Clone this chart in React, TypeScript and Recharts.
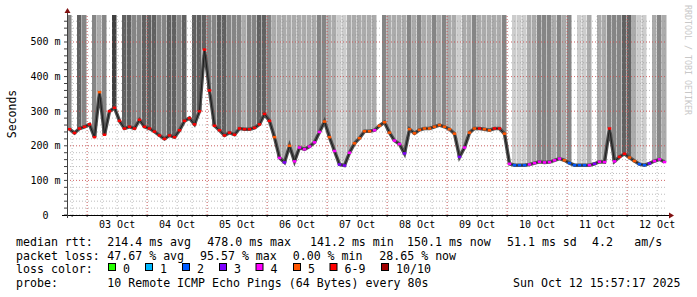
import { ComposedChart, Bar, Line, XAxis, YAxis, ReferenceLine, Cell } from "recharts";

// time axis in hours since 02 Oct 00:00, one bin = 2 h
const START_H = 15.95; // 02 Oct 15:57
const END_H = 255.95; // 12 Oct 15:57
const STEP_H = 2;
const Y_MAX = 578;

// median rtt (ms) per bin
const median = [
  248, 237, 250, 255, 262, 225, 355, 232, 300, 310, 272, 250, 255, 250, 275, 255, 250, 241, 230, 220, 230, 225, 245, 272, 280, 262, 300, 478, 360, 258,
  245, 230, 238, 232, 250, 248, 248, 252, 262, 292, 272, 225, 165, 152, 200, 155, 195, 190, 198, 210, 240, 270, 225, 185, 146, 143, 180, 207, 222, 242,
  242, 245, 258, 268, 238, 215, 205, 178, 248, 236, 246, 250, 250, 255, 260, 255, 248, 235, 168, 195, 238, 250, 250, 248, 245, 250, 250, 235, 148, 144,
  144, 144, 146, 150, 154, 152, 153, 158, 163, 158, 150, 144, 144, 144, 144, 148, 154, 153, 250, 155, 168, 177, 166, 156, 147, 144, 149, 156, 161, 153,
];

// lost pings out of 10 per bin (drives the median colour)
const lostPings = [
  6, 6, 6, 6, 6, 6, 5, 6, 6, 6, 6, 6, 6, 6, 6, 6, 6, 6, 6, 6, 6, 6, 6, 6, 6, 6, 6, 6, 6, 6,
  6, 6, 6, 6, 6, 6, 6, 6, 6, 6, 6, 5, 4, 3, 5, 4, 4, 4, 4, 4, 4, 5, 5, 4, 3, 3, 4, 5, 5, 5,
  5, 4, 5, 5, 5, 4, 4, 3, 5, 5, 5, 5, 5, 5, 5, 5, 5, 5, 3, 4, 5, 5, 6, 5, 5, 6, 6, 5, 4, 2,
  2, 2, 4, 4, 4, 4, 4, 4, 4, 5, 2, 2, 2, 2, 4, 3, 4, 4, 6, 4, 6, 6, 5, 5, 2, 2, 3, 4, 4, 4,
];

// smoke shade above the median per bin (0 = none, 5 = darkest)
const smokeShade = [
  3, 0, 4, 3, 0, 3, 2, 3, 0, 5, 0, 4, 4, 3, 3, 4, 4, 4, 3, 3, 4, 4, 3, 4, 0, 4, 4, 4, 3, 3,
  4, 4, 3, 3, 3, 2, 3, 3, 4, 4, 3, 2, 2, 2, 2, 2, 2, 2, 2, 2, 3, 3, 2, 2, 1, 1, 2, 2, 2, 2,
  2, 2, 0, 3, 2, 2, 2, 2, 3, 2, 3, 2, 2, 3, 2, 3, 2, 2, 1, 2, 2, 3, 2, 2, 2, 2, 2, 3, 0, 1,
  1, 1, 2, 2, 3, 3, 3, 2, 3, 2, 3, 0, 1, 1, 2, 0, 2, 2, 3, 3, 3, 4, 4, 2, 1, 1, 0, 2, 3, 2,
];

const DAY_LABELS = ["03 Oct", "04 Oct", "05 Oct", "06 Oct", "07 Oct", "08 Oct", "09 Oct", "10 Oct", "11 Oct", "12 Oct"];
const Y_LABELS = ["0", "100 m", "200 m", "300 m", "400 m", "500 m"];

const LOSS_COLORS = ["#26ff00", "#00b8ff", "#0059ff", "#7e00ff", "#ff00ff", "#ff5500", "#ff0000", "#ff0000", "#ff0000", "#ff0000", "#a10000"];
const LEGEND_ITEMS = [
  { label: "0", color: "#26ff00" },
  { label: "1", color: "#00b8ff" },
  { label: "2", color: "#0059ff" },
  { label: "3", color: "#7e00ff" },
  { label: "4", color: "#ff00ff" },
  { label: "5", color: "#ff5500" },
  { label: "6-9", color: "#ff0000" },
  { label: "10/10", color: "#a10000" },
];
const SHADES = ["none", "#cdcdcd", "#ababab", "#858585", "#616161", "#404040"];

const MONO = "'DejaVu Sans Mono', monospace";

const data = median.map((m, i) => ({
  h: START_H + STEP_H * (i + 0.5),
  median: m,
  loss: lostPings[i],
  shade: smokeShade[i],
  smoke: smokeShade[i] > 0 ? [m, Y_MAX] : null,
}));

const xMinor: number[] = [];
for (let h = 18; h <= 252; h += 6) xMinor.push(h);
const xMajor = xMinor.filter((h) => h % 24 === 0);
const yMinor: number[] = [];
for (let v = 0; v <= 560; v += 20) yMinor.push(v);
const yMajor = yMinor.filter((v) => v > 0 && v % 100 === 0);

function XTick({ x, y, payload }: any) {
  const h = payload.value;
  const label = h % 24 === 12 ? DAY_LABELS[(h - 36) / 24] : null;
  return (
    <g>
      <line x1={x} x2={x} y1={y} y2={y + 2} stroke="#404040" />
      {label && (
        <text x={x} y={y + 13} textAnchor="middle" fontFamily={MONO} fontSize={10} fill="#000">
          {label}
        </text>
      )}
    </g>
  );
}

function YTick({ x, y, payload }: any) {
  const v = payload.value;
  const label = v % 100 === 0 ? Y_LABELS[v / 100] : null;
  return (
    <g>
      <line x1={x - 3} x2={x} y1={y} y2={y} stroke="#404040" />
      {label && (
        <text x={v === 0 ? x - 18.5 : x - 6.5} y={y + 3.5} textAnchor="end" fontFamily={MONO} fontSize={10} fill="#000">
          {label}
        </text>
      )}
    </g>
  );
}

function LossDot({ cx, cy, payload }: any) {
  if (cx == null || cy == null) return null;
  return <rect x={cx - 1.75} y={cy - 1.25} width={3.5} height={2.5} fill={LOSS_COLORS[payload.loss]} />;
}

export default function App() {
  const rowText = { fontFamily: MONO, fontSize: 11.6, fill: "#000", whiteSpace: "pre" } as const;
  return (
    <div style={{ position: "absolute", left: 0, top: 0, width: 697, height: 297, background: "#fff" }}>
      <ComposedChart
        width={697}
        height={297}
        data={data}
        margin={{ top: 15, right: 30, bottom: 62, left: 0 }}
        barCategoryGap={0}
        barGap={0}
      >
        <XAxis
          type="number"
          dataKey="h"
          domain={[START_H, END_H]}
          ticks={xMinor}
          interval={0}
          tick={<XTick />}
          tickSize={0}
          tickMargin={0}
          axisLine={false}
          height={20}
          allowDataOverflow
        />
        <YAxis
          type="number"
          domain={[0, Y_MAX]}
          ticks={yMinor}
          interval={0}
          tick={<YTick />}
          tickSize={0}
          tickMargin={0}
          axisLine={false}
          width={67}
          allowDataOverflow
        />
        <Bar dataKey="smoke" barSize={5} isAnimationActive={false}>
          {data.map((d, i) => (
            <Cell key={i} fill={SHADES[d.shade]} />
          ))}
        </Bar>
        {xMinor.map((h) => (
          <ReferenceLine key={"xm" + h} x={h} stroke="rgba(143,143,143,0.6)" strokeDasharray="1 2" />
        ))}
        {yMinor.map((v) => (
          <ReferenceLine key={"ym" + v} y={v} stroke="rgba(143,143,143,0.6)" strokeDasharray="1 2" />
        ))}
        {xMajor.map((h) => (
          <ReferenceLine key={"xM" + h} x={h} stroke="rgba(232,56,56,0.6)" strokeDasharray="1 2" />
        ))}
        {yMajor.map((v) => (
          <ReferenceLine key={"yM" + v} y={v} stroke="rgba(232,56,56,0.6)" strokeDasharray="1 2" />
        ))}
        <Line dataKey="median" type="linear" stroke="#505050" strokeWidth={3.5} dot={false} activeDot={false} isAnimationActive={false} />
        <Line dataKey="median" type="linear" stroke="#1c1c1c" strokeWidth={1} dot={<LossDot />} activeDot={false} isAnimationActive={false} />
      </ComposedChart>

      <svg width={697} height={297} style={{ position: "absolute", left: 0, top: 0, pointerEvents: "none" }}>
        {/* axes and arrows */}
        <line x1={62} x2={670} y1={215.5} y2={215.5} stroke="#000" />
        <line x1={67.5} x2={67.5} y1={218} y2={12} stroke="#404040" />
        <polygon points="67.5,8 64.5,13 70.5,13" fill="#801010" />
        <polygon points="674,215.5 669,212.5 669,218.5" fill="#801010" />

        <text transform="translate(15.5,114) rotate(-90)" textAnchor="middle" fontFamily={MONO} fontSize={11.5} fill="#000">
          Seconds
        </text>
        <text transform="translate(684.5,5) rotate(90)" fontFamily={MONO} fontSize={8.3} fill="#c8c8c8">
          RRDTOOL / TOBI OETIKER
        </text>

        <text x={16} y={246} style={rowText}>median rtt:</text>
        <text x={107.3} y={246} style={rowText}>214.4 ms avg</text>
        <text x={207.3} y={246} style={rowText}>478.0 ms max</text>
        <text x={310} y={246} style={rowText}>141.2 ms min</text>
        <text x={407} y={246} style={rowText}>150.1 ms now</text>
        <text x={507} y={246} style={rowText}>51.1 ms sd</text>
        <text x={592} y={246} style={rowText}>4.2</text>
        <text x={634.3} y={246} style={rowText}>am/s</text>

        <text x={16} y={259.5} style={rowText}>packet loss:</text>
        <text x={107.3} y={259.5} style={rowText}>47.67 % avg</text>
        <text x={200} y={259.5} style={rowText}>95.57 % max</text>
        <text x={292.7} y={259.5} style={rowText}>0.00 % min</text>
        <text x={379.3} y={259.5} style={rowText}>28.65 % now</text>

        <text x={16} y={273} style={rowText}>loss color:</text>
        {LEGEND_ITEMS.map((it, i) => {
          const sx = [108.5, 145.5, 182.5, 219.5, 256, 293.5, 330, 381.5][i];
          return (
            <g key={it.label}>
              <rect x={sx} y={263.5} width={7} height={7} fill={it.color} stroke="#000" />
              <text x={sx + 14.5} y={273} style={rowText}>{it.label}</text>
            </g>
          );
        })}

        <text x={16} y={287} style={rowText}>probe:</text>
        <text x={107.3} y={287} style={rowText}>10 Remote ICMP Echo Pings (64 Bytes) every 80s</text>
        <text x={513} y={287} style={rowText}>Sun Oct 12 15:57:17 2025</text>
      </svg>
    </div>
  );
}
